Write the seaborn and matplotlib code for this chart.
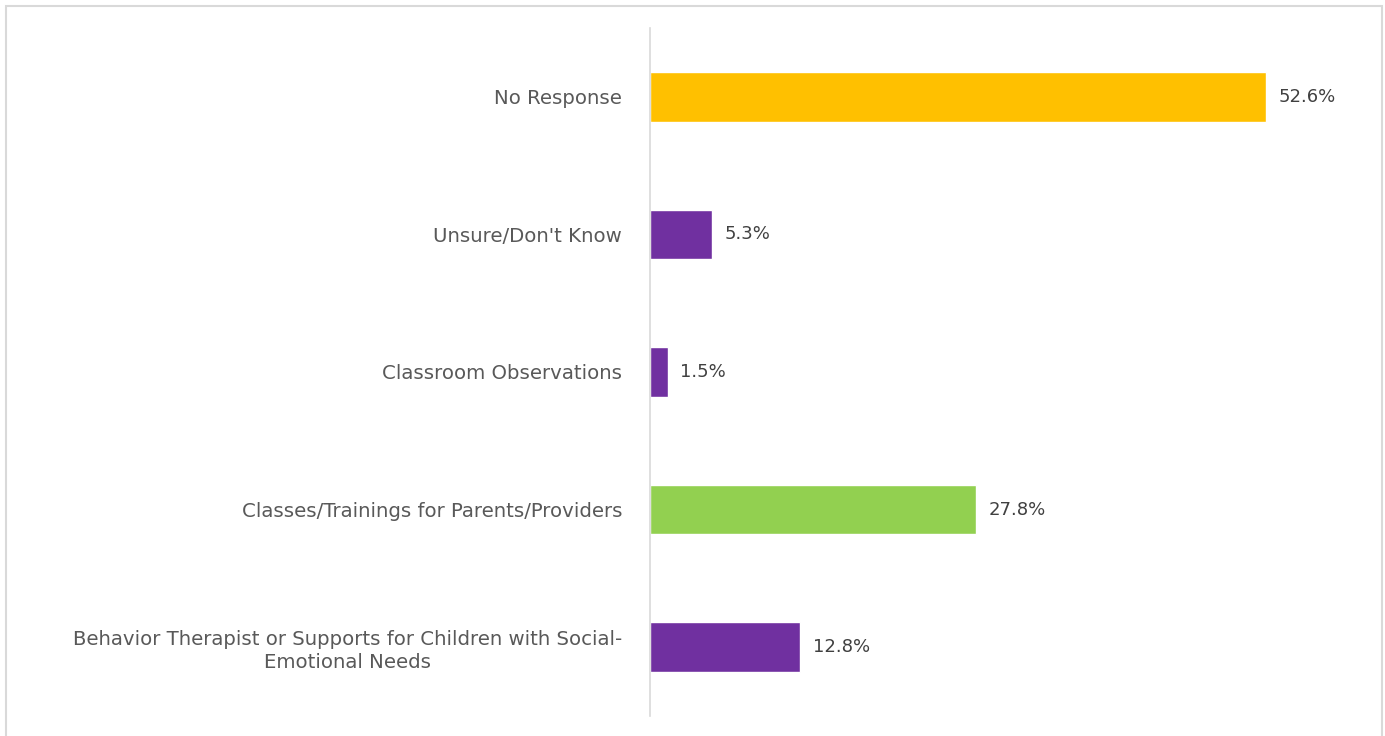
import matplotlib
matplotlib.use("Agg")
import matplotlib.pyplot as plt
import seaborn as sns
import pandas as pd
from matplotlib.patches import Rectangle

categories = [
    "No Response",
    "Unsure/Don't Know",
    "Classroom Observations",
    "Classes/Trainings for Parents/Providers",
    "Behavior Therapist or Supports for Children with Social-\nEmotional Needs",
]
values = [52.6, 5.3, 1.5, 27.8, 12.8]
colors = ["#FFC000", "#7030A0", "#7030A0", "#92D050", "#7030A0"]

df = pd.DataFrame({"category": categories, "value": values})

sns.set_style("white")
plt.rcParams["font.family"] = ["DejaVu Sans"]

fig = plt.figure(figsize=(13.85, 7.36), dpi=100)
W, H = 1385, 736
ax = fig.add_axes([650 / W, 1 - 716 / H, 720 / W, 688 / H])

sns.barplot(data=df, x="value", y="category", hue="category", palette=colors,
            legend=False, width=0.36, ax=ax, saturation=1)

ax.set_xlim(0, 720 / 11.71)
ax.set_ylim(4.5, -0.5)
ax.set_xlabel("")
ax.set_ylabel("")
ax.set_xticks([])
for s in ["top", "right", "bottom"]:
    ax.spines[s].set_visible(False)
ax.spines["left"].set_color("#D9D9D9")
ax.spines["left"].set_linewidth(1.2)
ax.tick_params(axis="y", length=0, pad=20)
for lbl in ax.get_yticklabels():
    lbl.set_fontsize(14.2)
    lbl.set_color("#595959")
    lbl.set_horizontalalignment("right")
    lbl.set_multialignment("center")
    lbl.set_linespacing(1.25)

for i, v in enumerate(values):
    ax.text(v + 1.1, i, f"{v:.1f}%", va="center", ha="left",
            fontsize=13, color="#404040")

# outer chart frame
fig.patches.append(Rectangle((6 / W, -0.05), (1382 - 6) / W, 1.05 - 6 / H,
                             transform=fig.transFigure, fill=False,
                             edgecolor="#D9D9D9", linewidth=1.5))

fig.savefig("out.png", dpi=100)
